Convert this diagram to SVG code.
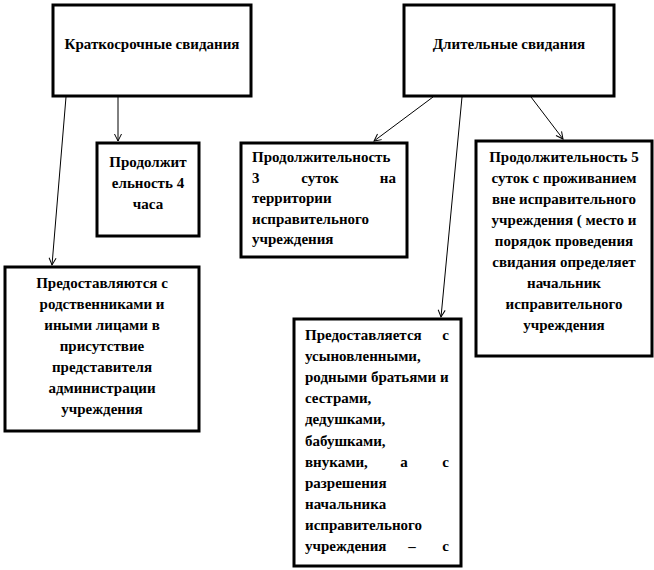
<svg xmlns="http://www.w3.org/2000/svg" width="654" height="570" viewBox="0 0 654 570">
<style>
.box{fill:#fff;stroke:#000;stroke-width:3}
.c{text-anchor:middle}
.e{text-anchor:end}
.m{text-anchor:middle}
.conn line{stroke:#000;stroke-width:1;fill:none}
</style>
<defs>
<marker id="arr" markerUnits="userSpaceOnUse" markerWidth="12" markerHeight="12" viewBox="-10 -6 12 12" refX="0" refY="0" orient="auto">
<path d="M-7,-3.5 L0,0 L-7,3.5" fill="none" stroke="#000" stroke-width="1"/>
</marker>
</defs>
<rect width="654" height="570" fill="#fff"/>
<g id="connectors" class="conn">
<line x1="66" y1="97" x2="52" y2="265" marker-end="url(#arr)"/>
<line x1="118" y1="97" x2="118" y2="141" marker-end="url(#arr)"/>
<line x1="433" y1="97" x2="374" y2="141" marker-end="url(#arr)"/>
<line x1="462" y1="97" x2="441" y2="317" marker-end="url(#arr)"/>
<line x1="531" y1="97" x2="563" y2="139" marker-end="url(#arr)"/>
</g>
<g id="nodes" font-family="Liberation Serif, serif" font-weight="bold" font-size="15" fill="#000">
<g id="short">
<rect class="box" x="53" y="5" width="198" height="91"/>
<text class="c" x="152" y="49">Краткосрочные свидания</text>
</g>
<g id="long">
<rect class="box" x="404" y="5" width="210" height="91"/>
<text class="c" x="509" y="49">Длительные свидания</text>
</g>
<g id="hours4">
<rect class="box" x="97" y="143" width="102" height="93"/>
<text class="c" x="148" y="167">Продолжит</text>
<text class="c" x="148" y="188">ельность 4</text>
<text class="c" x="148" y="209">часа</text>
</g>
<g id="days3">
<rect class="box" x="241" y="143" width="166" height="114"/>
<text x="252" y="162">Продолжительность</text>
<text x="252" y="183">3</text>
<text class="m" x="320" y="183">суток</text>
<text class="e" x="396" y="183">на</text>
<text x="252" y="203">территории</text>
<text x="252" y="224">исправительного</text>
<text x="252" y="244">учреждения</text>
</g>
<g id="days5">
<rect class="box" x="476" y="141" width="176" height="215"/>
<text class="c" x="564" y="162">Продолжительность 5</text>
<text class="c" x="564" y="183">суток с проживанием</text>
<text class="c" x="564" y="204">вне исправительного</text>
<text class="c" x="564" y="225">учреждения ( место и</text>
<text class="c" x="564" y="246">порядок проведения</text>
<text class="c" x="564" y="267">свидания определяет</text>
<text class="c" x="564" y="288">начальник</text>
<text class="c" x="564" y="309">исправительного</text>
<text class="c" x="564" y="330">учреждения</text>
</g>
<g id="relatives">
<rect class="box" x="5" y="267" width="194" height="164"/>
<text class="c" x="102" y="288">Предоставляются с</text>
<text class="c" x="102" y="309">родственниками и</text>
<text class="c" x="102" y="330">иными лицами в</text>
<text class="c" x="102" y="351">присутствие</text>
<text class="c" x="102" y="372">представителя</text>
<text class="c" x="102" y="393">администрации</text>
<text class="c" x="102" y="414">учреждения</text>
</g>
<g id="adopted">
<rect class="box" x="294" y="319" width="167" height="247"/>
<text x="305" y="340">Предоставляется</text>
<text class="e" x="449" y="340">с</text>
<text x="305" y="361">усыновленными,</text>
<text x="305" y="382">родными братьями и</text>
<text x="305" y="403">сестрами,</text>
<text x="305" y="424">дедушками,</text>
<text x="305" y="446">бабушками,</text>
<text x="305" y="467">внуками,</text>
<text class="m" x="404" y="467">а</text>
<text class="e" x="449" y="467">с</text>
<text x="305" y="488">разрешения</text>
<text x="305" y="509">начальника</text>
<text x="305" y="530">исправительного</text>
<text x="305" y="551">учреждения</text>
<text class="m" x="412" y="551">–</text>
<text class="e" x="449" y="551">с</text>
</g>
</g>
</svg>
